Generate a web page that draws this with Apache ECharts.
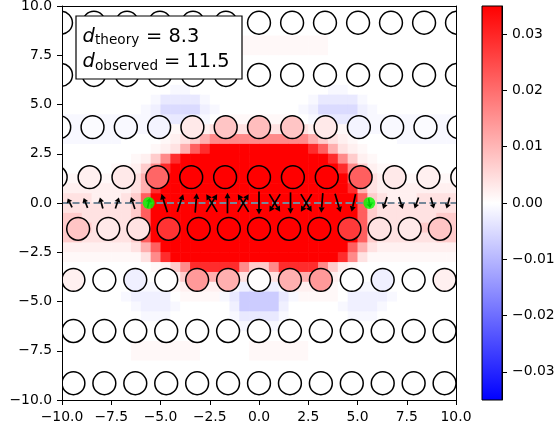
<!DOCTYPE html>
<html><head><meta charset="utf-8">
<script src="https://cdn.jsdelivr.net/npm/echarts@6/dist/echarts.min.js"></script>
<style>html,body{margin:0;padding:0;background:#fff;}#c{width:559px;height:429px;}</style>
</head><body><div id="c"></div>
<script>
// ---------- data ----------
const xTicks = [-10, -7.5, -5, -2.5, 0, 2.5, 5, 7.5, 10];
const yTicks = [-10, -7.5, -5, -2.5, 0, 2.5, 5, 7.5, 10];
const cbTicks = [-0.03, -0.02, -0.01, 0, 0.01, 0.02, 0.03];
const vRange = [-0.035, 0.035];

// background field on a 0.5-unit grid (rows top -> bottom)
const fieldX0 = -9.75, fieldY0 = 9.75, fieldStep = 0.5;
const fieldLevels = {'0':0,'1':0.001,'2':0.002,'3':0.004,'4':0.007,'5':0.011,'6':0.016,'7':0.022,'8':0.029,'9':0.035,
  'a':-0.001,'b':-0.002,'c':-0.003,'d':-0.005,'e':-0.007};
const fieldRows = [
"0000000000 0000000000 0000000000 0000000000",
"0000000000 0000000000 0000000000 0000000000",
"0000000000 0000000000 0000000000 0000000000",
"0000000000 0000111111 1111111000 0000000000",
"0000000000 0000111111 1111111000 0000000000",
"0000000000 0000000000 0000000000 0000000000",
"0000000000 0000000000 0000000000 0000000000",
"0000000000 0000000000 0000000000 0000000000",
"0000000000 0aa0000000 0000000aa0 0000000000",
"000000000a cccca00000 00000acccc a000000000",
"00000000ab ddddba0000 0000abdddd ba00000000",
"aaaaaaaaab cccba00111 11100abccc baaaaaaaaa",
"aaaaaaaaaa 0112233333 3333322110 aaaaaaaaaa",
"aaaaaa0000 1234566666 6666654321 0000aaaaaa",
"0000000001 2357899999 9999987532 1000000000",
"0000000124 6899999999 9999999864 2100000000",
"0000011246 8999999999 9999999986 4211000000",
"1111112357 9999999999 9999999997 5321111111",
"2222222358 9999999999 9999999998 5322222222",
"3332223479 9999999999 9999999999 7432223333",
"3333333479 9999999999 9999999999 7433333333",
"4433333479 9999999999 9999999999 7433333344",
"4443333479 9999999999 9999999999 7433334444",
"4433333479 9999999999 9999999999 7433333344",
"2222222357 9999999999 9999999997 5322222222",
"1111111136 8999999999 9999999986 3111111111",
"0000000001 2468888864 4688886421 0000000000",
"0000000a00 1245555531 1355554210 00a0000000",
"0000000aaa 0122222abc cba222210a aa00000000",
"000000abbb b01111acee eeca11110b bbba000000",
"0000000abb ba00000bee eeb00000ab bba0000000",
"00000000aa a000000acc cca000000a aa00000000",
"0000000000 00000000aa aa00000000 0000000000",
"0000000000 0000000000 0000000000 0000000000",
"0000000111 1111000001 1111100000 0000000000",
"0000000111 1111000001 1111100000 0000000000",
"0000000000 0000000000 0000000000 0000000000",
"0000000000 0000000000 0000000000 0000000000",
"0000000000 0000000000 0000000000 0000000000",
"0000000000 0000000000 0000000000 0000000000"
];

// atom rows: y of each row, x of each atom, colour value of each atom
const rowY = [9.15, 6.5, 3.85, 1.31, -1.31, -3.9, -6.5, -9.15];
const rowX = [
  [-10.05,-8.38,-6.7,-5.03,-3.35,-1.68,0,1.68,3.35,5.03,6.7,8.38,10.05],
  [-10.05,-8.38,-6.7,-5.03,-3.35,-1.68,0,1.68,3.35,5.03,6.7,8.38,10.05],
  [-10.14,-8.45,-6.76,-5.07,-3.38,-1.69,0,1.69,3.38,5.07,6.76,8.45,10.14],
  [-10.32,-8.6,-6.88,-5.16,-3.44,-1.72,0,1.72,3.44,5.16,6.88,8.6,10.32],
  [-9.18,-7.65,-6.12,-4.59,-3.06,-1.53,0,1.53,3.06,4.59,6.12,7.65,9.18],
  [-9.42,-7.85,-6.28,-4.71,-3.14,-1.57,0,1.57,3.14,4.71,6.28,7.85,9.42],
  [-9.42,-7.85,-6.28,-4.71,-3.14,-1.57,0,1.57,3.14,4.71,6.28,7.85,9.42],
  [-9.42,-7.85,-6.28,-4.71,-3.14,-1.57,0,1.57,3.14,4.71,6.28,7.85,9.42]
];
const rowVal = [
  [0,0,0,0,0,0,0,0,0,0,0,0,0],
  [0,0,0,0,0,0,0,0,0,0,0,0,0],
  [0,-0.0005,-0.0008,-0.0015,0.003,0.008,0.009,0.008,0.003,-0.0015,-0.0008,-0.0005,0],
  [0.001,0.002,0.003,0.021,0.035,0.035,0.035,0.035,0.035,0.022,0.003,0.002,0.001],
  [0.008,0.003,0.004,0.028,0.035,0.035,0.035,0.035,0.035,0.027,0.004,0.003,0.008],
  [0.002,0,-0.002,0,0.014,0.011,0.0003,0.011,0.014,0,-0.002,0,0.002],
  [0,0,0,0,0,0,0,0,0,0,0,0,0],
  [0,0,0,0,0,0,0,0,0,0,0,0,0]
];
const atomRadius = 0.58;

// spin arrows along the chain (y = 0), vector components in data units
const arrowX = [-9.6,-8.8,-8.0,-7.2,-6.4,-5.6,-4.8,-4.0,-3.2,-2.4,-2.4,-1.6,-0.8,-0.8,0,0.8,0.8,1.6,2.4,2.4,3.2,4.0,4.8,5.6,6.4,7.2,8.0,8.8,9.6];
const arrowU = [-0.22,-0.2,-0.15,0.18,-0.2,0.12,-0.3,0.3,0.08,0.55,-0.55,0,0.55,-0.55,0,-0.55,0.55,0,-0.55,0.55,-0.08,0.28,-0.2,0.08,-0.2,0.2,-0.2,0.16,-0.16];
const arrowV = [0.45,0.5,0.55,0.55,0.6,0.5,0.93,0.9,0.98,0.9,0.9,1.05,0.9,0.9,-1.18,-0.9,-0.9,-1.08,-0.9,-0.9,-1.0,-0.95,-0.9,-0.5,-0.6,-0.6,-0.55,-0.55,-0.55];
const chainY = 0;
const dotX = [-5.6, 5.6];
const dTheory = 8.3, dObserved = 11.5;

// ---------- build ----------
const heatData = [];
fieldRows.forEach((row, j) => {
  const s = row.replace(/ /g, '');
  for (let i = 0; i < s.length; i++) {
    heatData.push([fieldX0 + i * fieldStep, fieldY0 - j * fieldStep, fieldLevels[s[i]]]);
  }
});
const atomData = [];
rowY.forEach((y, r) => rowX[r].forEach((x, k) => atomData.push([x, y, rowVal[r][k]])));
const arrowData = arrowX.map((x, i) => [x, chainY, arrowU[i], arrowV[i]]);
const dotData = dotX.map(x => [x, chainY]);

const FONT = 'DejaVu Sans';
const fmt = d => v => (v < 0 ? '\u2212' : '') + Math.abs(v).toFixed(d);
const axisCommon = {
  axisLine: {show: true, onZero: false, lineStyle: {color: '#000', width: 1}},
  axisTick: {show: true, inside: false, length: 5, lineStyle: {color: '#000', width: 1}},
  splitLine: {show: false},
  z: 10
};
const labelStyle = {color: '#000', fontSize: 13.9, fontFamily: FONT, margin: 10};

const chart = echarts.init(document.getElementById('c'), null, {renderer: 'canvas'});
const half = fieldStep / 2;
chart.setOption({
  animation: false,
  backgroundColor: '#fff',
  grid: [
    {left: 62, top: 6, width: 394, height: 394, containLabel: false, outerBoundsMode: 'none'},
    {left: 482, top: 6, width: 20, height: 394, containLabel: false, outerBoundsMode: 'none'}
  ],
  xAxis: [
    Object.assign({}, axisCommon, {type: 'value', gridIndex: 0, min: xTicks[0], max: xTicks[xTicks.length-1], interval: 2.5,
      axisLabel: Object.assign({}, labelStyle, {formatter: fmt(1), customValues: xTicks}),
      axisTick: Object.assign({}, axisCommon.axisTick, {customValues: xTicks})}),
    Object.assign({}, axisCommon, {type: 'value', gridIndex: 0, position: 'top', min: -10, max: 10,
      axisLabel: {show: false}, axisTick: {show: false}}),
    {type: 'value', gridIndex: 1, min: 0, max: 1, show: false}
  ],
  yAxis: [
    Object.assign({}, axisCommon, {type: 'value', gridIndex: 0, min: yTicks[0], max: yTicks[yTicks.length-1], interval: 2.5,
      axisLabel: Object.assign({}, labelStyle, {formatter: fmt(1), customValues: yTicks}),
      axisTick: Object.assign({}, axisCommon.axisTick, {customValues: yTicks})}),
    Object.assign({}, axisCommon, {type: 'value', gridIndex: 0, position: 'right', min: -10, max: 10,
      axisLabel: {show: false}, axisTick: {show: false}}),
    Object.assign({}, axisCommon, {type: 'value', gridIndex: 1, position: 'right', min: vRange[0], max: vRange[1],
      axisLabel: Object.assign({}, labelStyle, {formatter: fmt(2), customValues: cbTicks}),
      axisTick: Object.assign({}, axisCommon.axisTick, {customValues: cbTicks})})
  ],
  visualMap: {
    type: 'continuous', show: false, min: vRange[0], max: vRange[1], dimension: 2,
    seriesIndex: [0, 1], inRange: {color: ['#0000ff', '#ffffff', '#ff0000']}
  },
  series: [
    { // background field
      type: 'custom', xAxisIndex: 0, yAxisIndex: 0, clip: true, silent: true, z: 1,
      data: heatData,
      renderItem: (params, api) => {
        const x = api.value(0), y = api.value(1);
        const a = api.coord([x - half, y + half]);
        const b = api.coord([x + half, y - half]);
        return {type: 'rect', shape: {x: a[0], y: a[1], width: b[0] - a[0] + 0.6, height: b[1] - a[1] + 0.6},
          style: {fill: api.visual('color')}};
      }
    },
    { // atoms
      type: 'custom', xAxisIndex: 0, yAxisIndex: 0, clip: true, silent: true, z: 2,
      data: atomData,
      renderItem: (params, api) => {
        const c = api.coord([api.value(0), api.value(1)]);
        const r = api.size([atomRadius, 0])[0];
        return {type: 'circle', shape: {cx: c[0], cy: c[1], r: r},
          style: {fill: api.visual('color'), stroke: '#000', lineWidth: 1.5}};
      }
    },
    { // spin arrows
      type: 'custom', xAxisIndex: 0, yAxisIndex: 0, clip: true, silent: true, z: 6,
      data: arrowData,
      renderItem: (params, api) => {
        const x = api.value(0), y = api.value(1), u = api.value(2), v = api.value(3);
        const p0 = api.coord([x - u / 2, y - v / 2]);
        const p1 = api.coord([x + u / 2, y + v / 2]);
        const dx = p1[0] - p0[0], dy = p1[1] - p0[1];
        const L = Math.hypot(dx, dy) || 1, ux = dx / L, uy = dy / L;
        const hl = Math.min(5.5, L * 0.4), hw = 3;
        const bx = p1[0] - ux * hl, by = p1[1] - uy * hl;
        return {type: 'group', children: [
          {type: 'line', shape: {x1: p0[0], y1: p0[1], x2: bx, y2: by}, style: {stroke: '#000', lineWidth: 1.7}},
          {type: 'polygon', shape: {points: [[p1[0], p1[1]], [bx - uy * hw, by + ux * hw], [bx + uy * hw, by - ux * hw]]},
            style: {fill: '#000'}}
        ]};
      }
    },
    { // wall end points + chain line
      type: 'scatter', xAxisIndex: 0, yAxisIndex: 0, z: 7, silent: true,
      symbol: 'circle', symbolSize: 12, itemStyle: {color: '#00ff00'},
      data: dotData,
      markLine: {
        silent: true, symbol: ['none', 'none'], label: {show: false}, z: 5,
        lineStyle: {type: [7, 3.5], color: '#778899', width: 2},
        emphasis: {disabled: true},
        data: [{yAxis: chainY}]
      }
    },
    { // colour bar
      type: 'custom', xAxisIndex: 2, yAxisIndex: 2, silent: true, z: 2,
      data: [[vRange[0], vRange[1]]],
      renderItem: (params, api) => {
        const a = api.coord([0, api.value(1)]);
        const b = api.coord([1, api.value(0)]);
        return {type: 'rect', shape: {x: a[0], y: a[1], width: b[0] - a[0], height: b[1] - a[1]},
          style: {stroke: '#000', lineWidth: 1,
            fill: {type: 'linear', x: 0, y: 0, x2: 0, y2: 1,
              colorStops: [{offset: 0, color: '#ff0000'}, {offset: 0.5, color: '#ffffff'}, {offset: 1, color: '#0000ff'}]}}};
      }
    }
  ],
  graphic: [
    {type: 'rect', z: 20, shape: {x: 76, y: 16, width: 166, height: 63}, style: {fill: '#fff', stroke: '#000', lineWidth: 1.2}},
    {type: 'text', z: 21, x: 82.5, y: 36.5, style: {text: 'd', fontStyle: 'italic', fontSize: 19.4, fontFamily: FONT, fill: '#000', verticalAlign: 'middle'}},
    {type: 'text', z: 21, x: 95, y: 40.7, style: {text: 'theory', fontSize: 13.6, fontFamily: FONT, fill: '#000', verticalAlign: 'middle'}},
    {type: 'text', z: 21, x: 146, y: 36.5, style: {text: '= ' + dTheory.toFixed(1), fontSize: 19.4, fontFamily: FONT, fill: '#000', verticalAlign: 'middle'}},
    {type: 'text', z: 21, x: 82.5, y: 61.5, style: {text: 'd', fontStyle: 'italic', fontSize: 19.4, fontFamily: FONT, fill: '#000', verticalAlign: 'middle'}},
    {type: 'text', z: 21, x: 95, y: 66.2, style: {text: 'observed', fontSize: 13.6, fontFamily: FONT, fill: '#000', verticalAlign: 'middle'}},
    {type: 'text', z: 21, x: 164, y: 61.5, style: {text: '= ' + dObserved.toFixed(1), fontSize: 19.4, fontFamily: FONT, fill: '#000', verticalAlign: 'middle'}}
  ]
});
</script>
</body></html>
